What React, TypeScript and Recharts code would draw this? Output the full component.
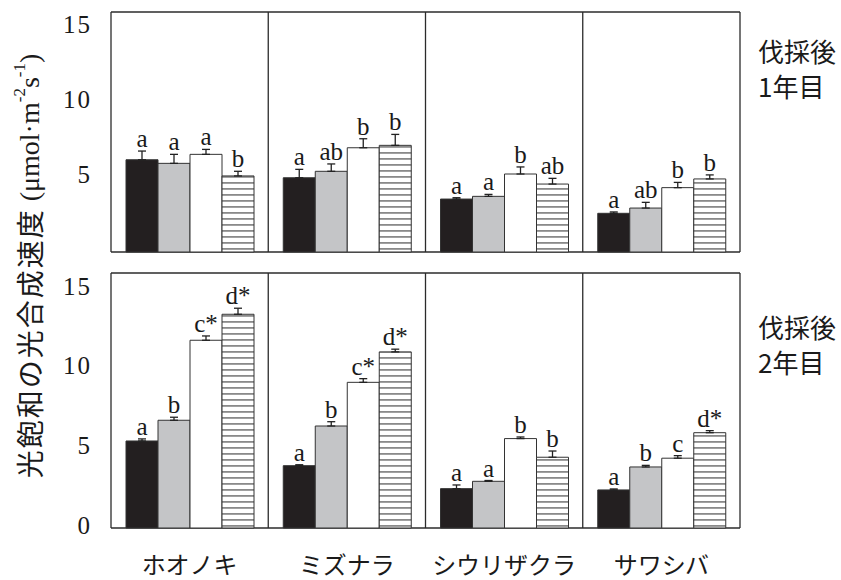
import { BarChart, Bar, XAxis, YAxis, CartesianGrid, ErrorBar } from "recharts";

const species = ["ホオノキ", "ミズナラ", "シウリザクラ", "サワシバ"];
const yTicks = [0, 5, 10, 15];

// 伐採後1年目 (black, gray, white, striped)
const y1Black = [6.15, 4.95, 3.53, 2.58];
const y1Gray = [5.91, 5.38, 3.71, 2.93];
const y1White = [6.51, 6.95, 5.2, 4.29];
const y1Stripe = [5.07, 7.11, 4.53, 4.87];
const y1BlackErr = [0.58, 0.56, 0.09, 0.09];
const y1GrayErr = [0.6, 0.49, 0.13, 0.38];
const y1WhiteErr = [0.33, 0.6, 0.47, 0.35];
const y1StripeErr = [0.31, 0.73, 0.38, 0.27];
const y1BlackSig = ["a", "a", "a", "a"];
const y1GraySig = ["a", "ab", "a", "ab"];
const y1WhiteSig = ["a", "b", "b", "b"];
const y1StripeSig = ["b", "b", "ab", "b"];

// 伐採後2年目
const y2Black = [5.46, 3.91, 2.47, 2.39];
const y2Gray = [6.76, 6.4, 2.93, 3.83];
const y2White = [11.78, 9.14, 5.61, 4.38];
const y2Stripe = [13.41, 11.05, 4.44, 5.98];
const y2BlackErr = [0.13, 0.06, 0.23, 0.06];
const y2GrayErr = [0.19, 0.27, 0.05, 0.1];
const y2WhiteErr = [0.27, 0.23, 0.1, 0.16];
const y2StripeErr = [0.38, 0.17, 0.39, 0.13];
const y2BlackSig = ["a", "a", "a", "a"];
const y2GraySig = ["b", "b", "a", "b"];
const y2WhiteSig = ["c*", "c*", "b", "c"];
const y2StripeSig = ["d*", "d*", "b", "d*"];

const SERIF = "'Liberation Serif', 'DejaVu Serif', serif";
const GOTHIC = "'Noto Sans CJK JP', 'Noto Sans', sans-serif";
const FRAME = "#2b2b2b";

function buildRows(vals: number[][], errs: number[][]) {
  return species.map((name, i) => {
    const row: any = { name };
    vals.forEach((v, k) => {
      row["v" + k] = v[i];
      row["e" + k] = [0, errs[k][i]];
    });
    return row;
  });
}

const sigLabel = (vals: number[], errs: number[], sig: string[]) => (p: any) => {
  const vb = p.viewBox && p.viewBox.width != null ? p.viewBox : p;
  const idx = p.index;
  if (idx == null) return null;
  const val = vals[idx];
  const h = Math.abs(vb.height);
  const top = Math.min(vb.y, vb.y + vb.height);
  const ppu = val ? h / val : 0;
  const errTop = top - errs[idx] * ppu;
  return (
    <text
      key={"sig" + idx}
      x={vb.x + vb.width / 2}
      y={errTop - 4}
      textAnchor="middle"
      fontFamily={SERIF}
      fontSize={25}
      fill="#1a1a1a"
    >
      {sig[idx]}
    </text>
  );
};

interface PanelProps {
  vals: number[][];
  errs: number[][];
  sigs: string[][];
  pid: string;
  height: number;
  top: number;
  marginTop: number;
  marginBottom: number;
  showX: boolean;
}

function Panel({ vals, errs, sigs, pid, height, top, marginTop, marginBottom, showX }: PanelProps) {
  const rows = buildRows(vals, errs);
  const fills = ["#231f20", "#c4c5c7", "#ffffff", `url(#${pid})`];
  return (
    <div style={{ position: "absolute", left: 0, top }}>
      <BarChart
        width={841}
        height={height}
        data={rows}
        margin={{ top: marginTop, right: 101, bottom: marginBottom, left: 51 }}
        barCategoryGap={15}
        barGap={0}
      >
        <defs>
          <pattern id={pid} patternUnits="userSpaceOnUse" width={6} height={6}>
            <rect width={6} height={6} fill="#fff" />
            <rect y={2} width={6} height={1.8} fill="#8a8a8a" />
          </pattern>
        </defs>
        <CartesianGrid
          stroke={FRAME}
          strokeWidth={1.3}
          verticalCoordinatesGenerator={({ offset }: any) =>
            [0, 1, 2, 3, 4].map((i) => offset.left + (i * offset.width) / 4)
          }
          horizontalCoordinatesGenerator={({ offset }: any) => [offset.top, offset.top + offset.height]}
        />
        <XAxis
          dataKey="name"
          hide={!showX}
          height={52}
          axisLine={false}
          tickLine={false}
          interval={0}
          tick={(p: any) => (
            <text
              x={p.x}
              y={p.y + 38}
              textAnchor="middle"
              fontFamily={GOTHIC}
              fontSize={24}
              fill="#1a1a1a"
            >
              {p.payload.value}
            </text>
          )}
        />
        <YAxis
          width={60}
          domain={[0, 16]}
          ticks={yTicks}
          axisLine={false}
          tickLine={false}
          tickSize={0}
          tickMargin={19}
          tick={(p: any) => (
            <text
              x={p.x}
              y={p.y - 3}
              dy="0.35em"
              textAnchor="end"
              fontFamily={SERIF}
              fontSize={25}
              letterSpacing={2}
              fill="#1a1a1a"
            >
              {p.payload.value}
            </text>
          )}
        />
        <YAxis
          yAxisId="li"
          orientation="left"
          mirror
          width={10}
          domain={[0, 16]}
          ticks={yTicks}
          axisLine={false}
          tick={false}
          tickSize={10}
          tickLine={{ stroke: FRAME, strokeWidth: 1.3 }}
        />
        <YAxis
          yAxisId="ri"
          orientation="right"
          mirror
          width={10}
          domain={[0, 16]}
          ticks={yTicks}
          axisLine={false}
          tick={false}
          tickSize={10}
          tickLine={{ stroke: FRAME, strokeWidth: 1.3 }}
        />
        {fills.map((f, k) => (
          <Bar
            key={k}
            dataKey={"v" + k}
            fill={f}
            stroke="#333"
            strokeWidth={1}
            isAnimationActive={false}
            label={sigLabel(vals[k], errs[k], sigs[k])}
          >
            <ErrorBar dataKey={"e" + k} width={4} stroke="#222" strokeWidth={1.3} direction="y" />
          </Bar>
        ))}
      </BarChart>
    </div>
  );
}

export default function App() {
  return (
    <div style={{ position: "relative", width: 841, height: 580, background: "#fff", overflow: "hidden" }}>
      <style>{"body{margin:0;background:#fff}"}</style>
      <Panel
        vals={[y1Black, y1Gray, y1White, y1Stripe]}
        errs={[y1BlackErr, y1GrayErr, y1WhiteErr, y1StripeErr]}
        sigs={[y1BlackSig, y1GraySig, y1WhiteSig, y1StripeSig]}
        pid="stripe1"
        height={260}
        top={0}
        marginTop={12}
        marginBottom={8}
        showX={false}
      />
      <Panel
        vals={[y2Black, y2Gray, y2White, y2Stripe]}
        errs={[y2BlackErr, y2GrayErr, y2WhiteErr, y2StripeErr]}
        sigs={[y2BlackSig, y2GraySig, y2WhiteSig, y2StripeSig]}
        pid="stripe2"
        height={315}
        top={265}
        marginTop={8}
        marginBottom={0}
        showX={true}
      />
      <svg width={60} height={580} style={{ position: "absolute", left: 0, top: 0 }}>
        <text
          transform="translate(29,266) rotate(-90)"
          textAnchor="middle"
          dominantBaseline="central"
          fill="#1a1a1a"
        >
          <tspan fontFamily={GOTHIC} fontSize={28} letterSpacing={2}>
            光飽和の光合成速度
          </tspan>
          <tspan fontFamily={SERIF} fontSize={28}> (μmol·m</tspan>
          <tspan fontFamily={SERIF} fontSize={17} dy={-10}>-2</tspan>
          <tspan fontFamily={SERIF} fontSize={28} dy={10}>s</tspan>
          <tspan fontFamily={SERIF} fontSize={17} dy={-10}>-1</tspan>
          <tspan fontFamily={SERIF} fontSize={28} dy={10}>)</tspan>
        </text>
      </svg>
      <div
        style={{
          position: "absolute",
          left: 758,
          top: 33,
          fontFamily: GOTHIC,
          fontSize: 26,
          lineHeight: "35px",
          color: "#1a1a1a",
        }}
      >
        伐採後
        <br />
        1年目
      </div>
      <div
        style={{
          position: "absolute",
          left: 758,
          top: 309,
          fontFamily: GOTHIC,
          fontSize: 26,
          lineHeight: "35px",
          color: "#1a1a1a",
        }}
      >
        伐採後
        <br />
        2年目
      </div>
    </div>
  );
}
